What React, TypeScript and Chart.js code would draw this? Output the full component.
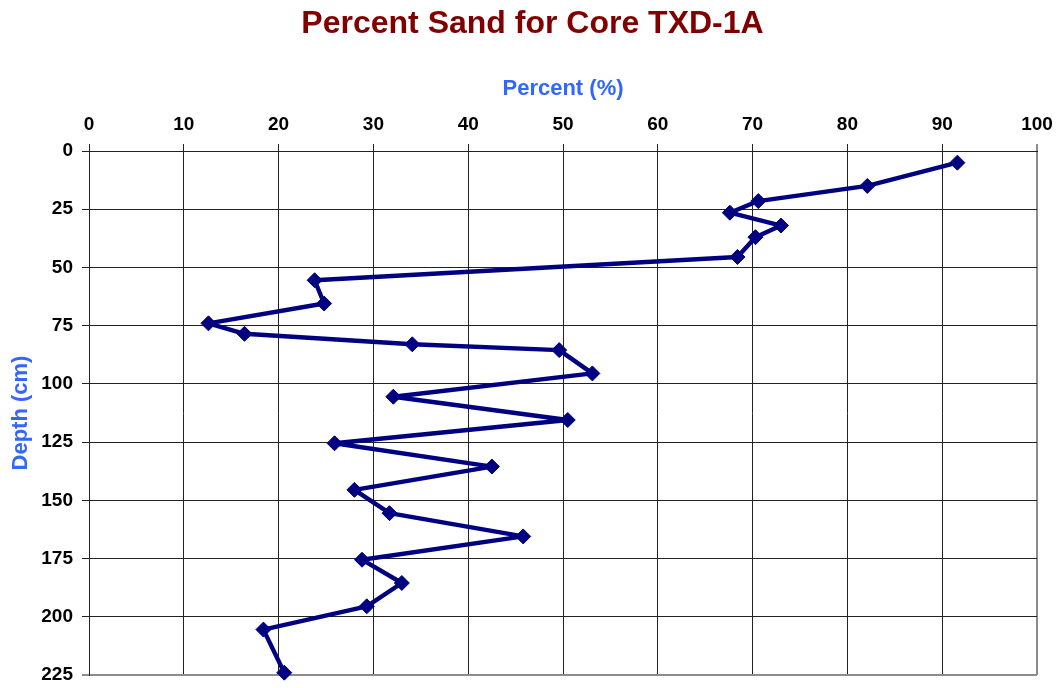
import React, { useEffect, useRef } from "react";
import { Chart, registerables } from "chart.js";

Chart.register(...registerables);

const chartTitle = "Percent Sand for Core TXD-1A";
const xAxisTitle = "Percent (%)";
const yAxisTitle = "Depth (cm)";
const depthCm = [5, 15, 21.5, 26.5, 32, 37, 45.5, 55.5, 65.5, 74, 78.5, 83, 85.5, 95.5, 105.5, 115.5, 125.5, 135.5, 145.5, 155.5, 165.5, 175.5, 185.5, 195.5, 205.5, 224];
const sandPercent = [91.6, 82.1, 70.6, 67.6, 73.0, 70.3, 68.4, 23.8, 24.8, 12.6, 16.4, 34.1, 49.6, 53.1, 32.1, 50.5, 25.9, 42.5, 28.0, 31.7, 45.8, 28.8, 33.0, 29.3, 18.4, 20.6];

const FONT = "'Liberation Sans', Arial, Helvetica, sans-serif";

export default function App() {
  const ref = useRef<HTMLCanvasElement | null>(null);

  useEffect(() => {
    if (!ref.current) return;
    const points = sandPercent.map((v, i) => ({ x: v, y: depthCm[i] }));
    const chart = new Chart(ref.current, {
      type: "scatter",
      data: {
        datasets: [
          {
            data: points,
            showLine: true,
            borderColor: "#000080",
            backgroundColor: "#000080",
            borderWidth: 4.4,
            borderJoinStyle: "round",
            pointStyle: "rectRot",
            pointRadius: 7.5,
            pointHoverRadius: 7.5,
            pointBorderWidth: 1,
            pointBorderColor: "#000080",
            pointBackgroundColor: "#000080",
            clip: false,
          } as any,
        ],
      },
      options: {
        animation: false,
        responsive: false,
        devicePixelRatio: 1,
        layout: { padding: { left: 5, right: 0, top: 0, bottom: 13 } },
        plugins: {
          legend: { display: false },
          tooltip: { enabled: false },
          title: {
            display: true,
            text: chartTitle,
            color: "#800000",
            font: { family: FONT, size: 32, weight: "bold" },
            padding: { top: 5, bottom: 0.6 },
          },
        },
        scales: {
          x: {
            type: "linear",
            position: "top",
            min: 0,
            max: 100,
            ticks: {
              stepSize: 10,
              color: "#000",
              padding: 8,
              font: { family: FONT, size: 19, weight: "bold" },
            },
            grid: {
              color: (c: any) => (c.tick && c.tick.value === 100 ? "#8c8c8c" : "#222"),
              lineWidth: (c: any) => (c.tick && c.tick.value === 100 ? 2 : 1),
              tickLength: 7,
            },
            border: { display: true, color: "#222", width: 1 },
            title: {
              display: true,
              text: xAxisTitle,
              color: "#3366ff",
              font: { family: FONT, size: 22, weight: "bold" },
              padding: { top: 31.8, bottom: 0 },
            },
            afterFit: (s: any) => {
              s.height = 107;
              s.paddingLeft = 0;
              s.paddingRight = 23;
            },
          },
          y: {
            type: "linear",
            reverse: true,
            min: 0,
            max: 225,
            ticks: {
              stepSize: 25,
              color: "#000",
              padding: 9,
              font: { family: FONT, size: 19, weight: "bold" },
            },
            grid: {
              color: (c: any) => (c.tick && c.tick.value === 225 ? "#8c8c8c" : "#222"),
              lineWidth: (c: any) => (c.tick && c.tick.value === 225 ? 2 : 1),
              tickLength: 7,
            },
            border: { display: true, color: "#222", width: 1 },
            title: {
              display: true,
              text: yAxisTitle,
              color: "#3366ff",
              font: { family: FONT, size: 22, weight: "bold" },
              padding: { top: 3, bottom: 0 },
            },
            afterFit: (s: any) => {
              s.width = 84;
              s.paddingTop = 0;
              s.paddingBottom = 0;
            },
          },
        },
      },
    });
    return () => chart.destroy();
  }, []);

  return (
    <div style={{ position: "absolute", left: 0, top: 0, width: 1060, height: 688, background: "#fff" }}>
      <canvas ref={ref} width={1060} height={688} />
    </div>
  );
}
